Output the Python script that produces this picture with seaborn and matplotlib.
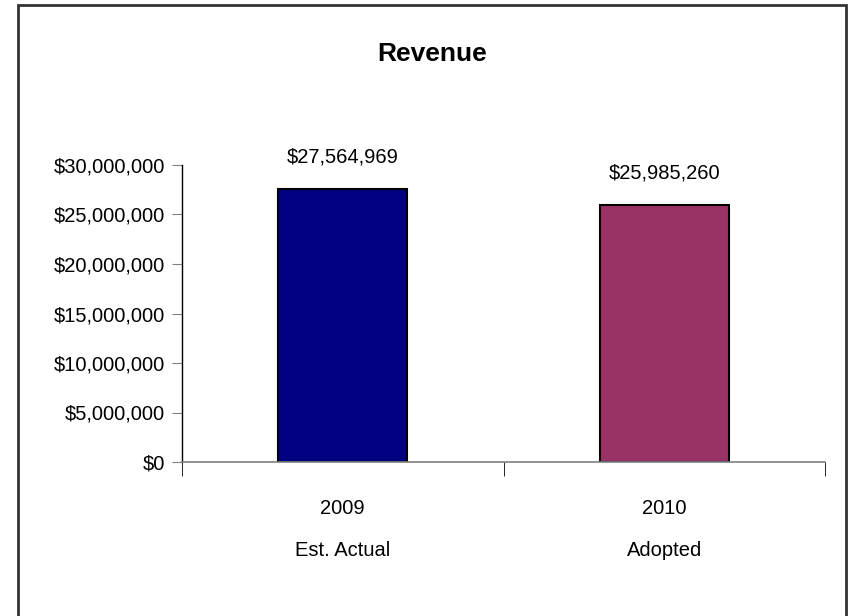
import numpy as np
import pandas as pd
import seaborn as sns
import matplotlib.pyplot as plt
from matplotlib.patches import Rectangle
from matplotlib.ticker import FuncFormatter, FixedLocator

# chart data
categories = ['2009\nEst. Actual', '2010\nAdopted']
revenue = [27564969, 25985260]
bar_colors = ['#000080', '#993366']

df = pd.DataFrame({'category': categories, 'revenue': revenue})

sns.set_style("white")
plt.rcParams['font.family'] = ['Liberation Sans Narrow', 'Liberation Sans', 'DejaVu Sans']
plt.rcParams['text.color'] = 'black'
plt.rcParams['xtick.color'] = 'black'
plt.rcParams['ytick.color'] = 'black'

fig = plt.figure(figsize=(8.48, 6.16), dpi=100)
ax = fig.add_axes([182 / 848, 1 - 462 / 616, (825 - 182) / 848, (462 - 165) / 616])

sns.barplot(data=df, x='category', y='revenue', hue='category',
            palette=bar_colors, saturation=1, width=0.4, edgecolor='black',
            linewidth=1.5, legend=False, ax=ax)

ax.set_xlim(-0.5, 1.5)
ax.set_ylim(0, 30000000)
ax.set_yticks(np.arange(0, 30000001, 5000000))
ax.yaxis.set_major_formatter(FuncFormatter(lambda v, p: '${:,.0f}'.format(v)))
ax.set_xlabel('')
ax.set_ylabel('')

# value labels above bars
for i, v in enumerate(revenue):
    ax.annotate('${:,.0f}'.format(v), xy=(i, v), xytext=(0, 19),
                textcoords='offset points', ha='center', va='baseline',
                fontsize=14.5, color='black')

# spines and ticks
for s in ['top', 'right']:
    ax.spines[s].set_visible(False)
ax.spines['left'].set_color('black')
ax.spines['bottom'].set_color('#808080')
ax.spines['left'].set_linewidth(1)
ax.spines['bottom'].set_linewidth(1.2)

ax.tick_params(axis='y', direction='out', length=7, color='#808080', labelsize=14.5,
               labelcolor='black', pad=5, left=True)
ax.tick_params(axis='x', which='major', length=0, pad=27, labelsize=14.5, labelcolor='black')
ax.xaxis.set_minor_locator(FixedLocator([-0.5, 0.5, 1.5]))
ax.tick_params(axis='x', which='minor', direction='out', length=10, color='black', bottom=True)
for lbl in ax.get_xticklabels():
    lbl.set_linespacing(2.5)

# title
fig.text(432 / 848, 1 - 54 / 616, 'Revenue', ha='center', va='center',
         fontsize=19, fontweight='bold', color='black')

# outer frame
fig.patches.append(Rectangle((18 / 848, -0.1), (846 - 18) / 848, 1.1 - 5 / 616,
                             transform=fig.transFigure, fill=False,
                             edgecolor='#333333', linewidth=2))

fig.savefig('out.png', dpi=100)
